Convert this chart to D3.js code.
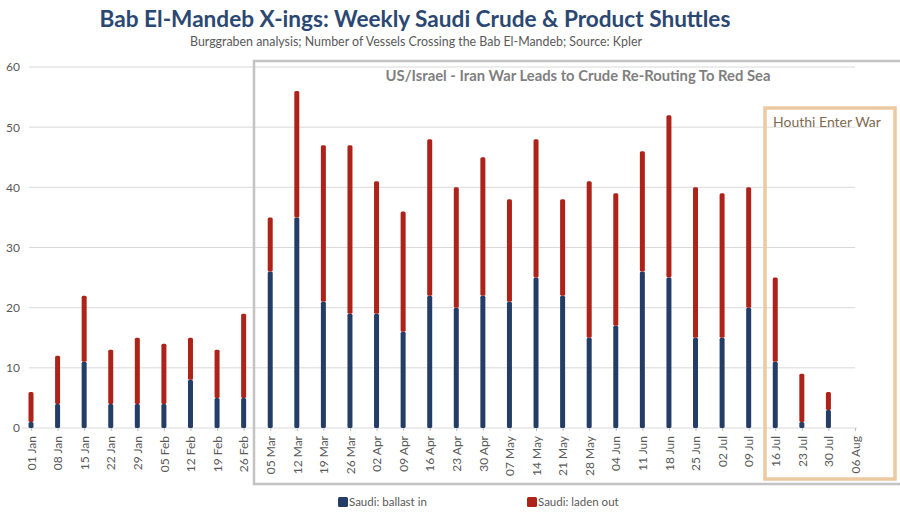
<!DOCTYPE html>
<html>
<head>
<meta charset="utf-8">
<script src="https://cdn.jsdelivr.net/npm/d3@7"></script>
<style>
  body { margin: 0; background: #fff; }
  text { font-family: Lato, "Open Sans", sans-serif; }
</style>
</head>
<body>
<div id="chart"></div>
<script>
/* DATA */
const weeks = ["01 Jan", "08 Jan", "15 Jan", "22 Jan", "29 Jan", "05 Feb", "12 Feb", "19 Feb", "26 Feb",
  "05 Mar", "12 Mar", "19 Mar", "26 Mar", "02 Apr", "09 Apr", "16 Apr", "23 Apr", "30 Apr",
  "07 May", "14 May", "21 May", "28 May", "04 Jun", "11 Jun", "18 Jun", "25 Jun",
  "02 Jul", "09 Jul", "16 Jul", "23 Jul", "30 Jul", "06 Aug"];

// Saudi: ballast in (southbound empties)
const ballastIn = [1, 4, 11, 4, 4, 4, 8, 5, 5,
  26, 35, 21, 19, 19, 16, 22, 20, 22,
  21, 25, 22, 15, 17, 26, 25, 15,
  15, 20, 11, 1, 3, 0];

// Saudi: laden out
const ladenOut = [5, 8, 11, 9, 11, 10, 7, 8, 14,
  9, 21, 26, 28, 22, 20, 26, 20, 23,
  17, 23, 16, 26, 22, 20, 27, 25,
  24, 20, 14, 8, 3, 0];

const yTicks = [0, 10, 20, 30, 40, 50, 60];

const seriesNames = ["Saudi: ballast in", "Saudi: laden out"];
const seriesColors = ["#243d66", "#ad2219"];

const width = 900, height = 514;

const svg = d3.select("#chart").append("svg")
  .attr("width", width)
  .attr("height", height);

// titles
svg.append("text")
  .attr("x", 415).attr("y", 27)
  .attr("text-anchor", "middle")
  .attr("font-size", 22.6)
  .attr("font-weight", "bold")
  .attr("fill", "#2b4872")
  .text("Bab El-Mandeb X-ings: Weekly Saudi Crude & Product Shuttles");

svg.append("text")
  .attr("x", 416).attr("y", 46)
  .attr("text-anchor", "middle")
  .attr("font-size", 12.4)
  .attr("fill", "#595959")
  .text("Burggraben analysis; Number of Vessels Crossing the Bab El-Mandeb; Source: Kpler");

// scales
const xScale = d3.scalePoint()
  .domain(weeks)
  .range([31, 855]);

const yScale = d3.scaleLinear()
  .domain([0, 60])
  .range([428, 67]);

// gridlines
svg.append("g")
  .selectAll("line")
  .data(yTicks.filter(d => d > 0))
  .join("line")
  .attr("x1", 29).attr("x2", 855)
  .attr("y1", d => yScale(d)).attr("y2", d => yScale(d))
  .attr("stroke", "#d9d9d9")
  .attr("stroke-width", 1);

// y axis
const yAxis = d3.axisLeft(yScale).tickValues(yTicks).tickSize(0).tickPadding(0);
svg.append("g")
  .attr("transform", "translate(20,0)")
  .call(yAxis)
  .call(g => g.select(".domain").remove())
  .selectAll("text")
  .attr("font-family", "Lato, sans-serif")
  .attr("font-size", 12)
  .attr("fill", "#595959");

// x axis
const xAxis = d3.axisBottom(xScale).tickSize(3).tickPadding(6);
const xg = svg.append("g")
  .attr("transform", `translate(0,${yScale(0)})`)
  .call(xAxis);
xg.select(".domain")
  .attr("d", "M22,0H857")
  .attr("stroke", "#d9d9d9");
xg.selectAll(".tick line").attr("stroke", "#bfbfbf");
xg.selectAll("text")
  .attr("font-family", "Lato, sans-serif")
  .attr("font-size", 12)
  .attr("fill", "#595959")
  .attr("text-anchor", "end")
  .attr("dy", "0.35em")
  .attr("transform", "rotate(-90)")
  .attr("x", -8)
  .attr("y", 0);

// stacked bars
const rows = weeks.map((w, i) => ({ week: w, ballast: ballastIn[i], laden: ladenOut[i] }));
const stack = d3.stack().keys(["ballast", "laden"]);
const layers = stack(rows);
const barW = 5;

svg.append("g")
  .selectAll("g")
  .data(layers)
  .join("g")
  .attr("fill", (d, i) => seriesColors[i])
  .selectAll("rect")
  .data(d => d.filter(s => s[1] - s[0] > 0))
  .join("rect")
  .attr("x", d => xScale(d.data.week) - barW / 2)
  .attr("width", barW)
  .attr("y", d => yScale(d[1]))
  .attr("height", d => yScale(d[0]) - yScale(d[1]))
  .attr("rx", 1.5);

// annotation boxes
svg.append("rect")
  .attr("x", 254).attr("y", 61)
  .attr("width", 660).attr("height", 423)
  .attr("fill", "none")
  .attr("stroke", "#c3c3c3")
  .attr("stroke-width", 2.5);

svg.append("text")
  .attr("x", 578).attr("y", 81)
  .attr("text-anchor", "middle")
  .attr("font-size", 14.8)
  .attr("font-weight", "bold")
  .attr("fill", "#7f7f7f")
  .text("US/Israel - Iran War Leads to Crude Re-Routing To Red Sea");

svg.append("rect")
  .attr("x", 765).attr("y", 108)
  .attr("width", 130).attr("height", 371)
  .attr("fill", "none")
  .attr("stroke", "#ecc9a0")
  .attr("stroke-width", 3.5);

svg.append("text")
  .attr("x", 773).attr("y", 127)
  .attr("font-size", 14)
  .attr("fill", "#7e6b4f")
  .text("Houthi Enter War");

// legend
const legendX = [338, 527];
const legend = svg.append("g")
  .selectAll("g")
  .data(seriesNames)
  .join("g")
  .attr("transform", (d, i) => `translate(${legendX[i]},497)`);
legend.append("rect")
  .attr("width", 10).attr("height", 10)
  .attr("rx", 1.5)
  .attr("fill", (d, i) => seriesColors[i]);
legend.append("text")
  .attr("x", 11).attr("y", 9)
  .attr("font-size", 11.5)
  .attr("fill", "#595959")
  .text(d => d);
</script>
</body>
</html>
